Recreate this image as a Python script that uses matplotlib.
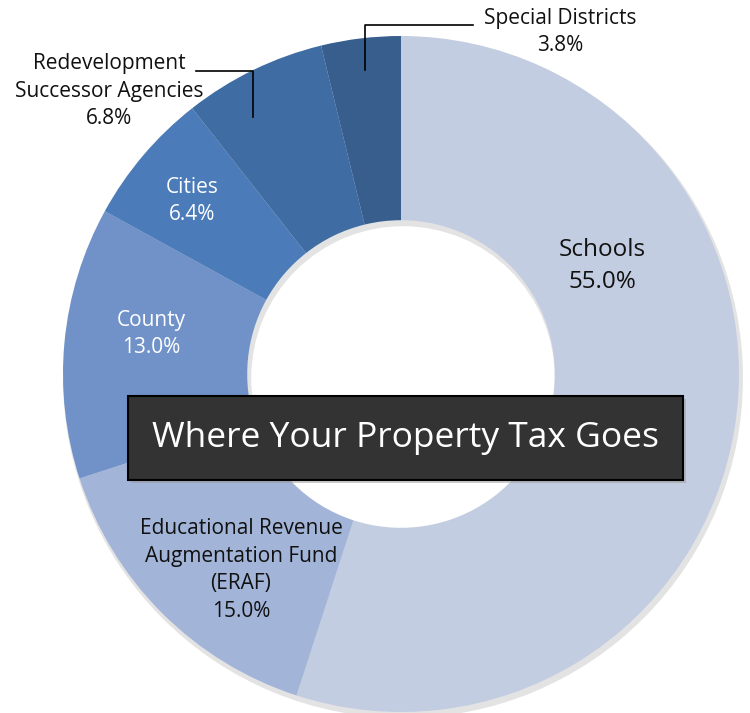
import matplotlib.pyplot as plt
from matplotlib.patches import Rectangle

plt.rcParams['font.family'] = ['Open Sans', 'DejaVu Sans']

categories = ['Schools', 'Educational Revenue\nAugmentation Fund\n(ERAF)', 'County',
              'Cities', 'Redevelopment\nSuccessor Agencies', 'Special Districts']
values = [55.0, 15.0, 13.0, 6.4, 6.8, 3.8]
colors = ['#c3cde1', '#a2b5d8', '#7192c8', '#4b7bb8', '#3f6ca3', '#375e8d']

W, H = 750, 713
fig = plt.figure(figsize=(7.5, 7.13), dpi=100)
ax = fig.add_axes([0, 0, 1, 1])

cx, cy = 401, H - 374
R = 338
width = 0.545

# soft shadow
ax.pie([1], colors=['#b0b0b0'], radius=R + 2, center=(cx + 2, cy - 4),
       wedgeprops=dict(width=R * width + 4, linewidth=0, alpha=0.35), frame=True)
ax.pie(values, colors=colors, startangle=90, counterclock=False, radius=R,
       center=(cx, cy), wedgeprops=dict(width=R * width, linewidth=0), frame=True)
ax.set_xlim(0, W)
ax.set_ylim(0, H)
ax.set_aspect('equal')
ax.axis('off')

pct = ['%.1f%%' % v for v in values]
# label centres (pixel coords from top)
pos = [(602, 266), (241, 570), (151, 334), (192, 201), (109, 91), (560, 32)]
tcol = ['#111111', '#111111', 'white', 'white', '#111111', '#111111']
fsz = [17.5, 15, 15, 15, 15, 15]
for name, p, (x, y), c, f in zip(categories, pct, pos, tcol, fsz):
    ax.text(x, H - y, name + '\n' + p, ha='center', va='center', fontsize=f,
            color=c, linespacing=1.42)

# leader lines
ax.plot([365, 365, 473], [H - 70, H - 25, H - 25], color='black', lw=1.2)
ax.plot([196, 253, 253], [H - 71, H - 71, H - 117], color='black', lw=1.2)

# title box
ax.add_patch(Rectangle((131, H - 483), 555, 84, facecolor='#999999', edgecolor='none', alpha=0.5))
ax.add_patch(Rectangle((128, H - 480), 555, 84, facecolor='#333333', edgecolor='black', lw=1.5))
ax.text(406, H - 438, 'Where Your Property Tax Goes', ha='center', va='center',
        fontsize=25.5, color='white')

fig.savefig('out.png', dpi=100)
